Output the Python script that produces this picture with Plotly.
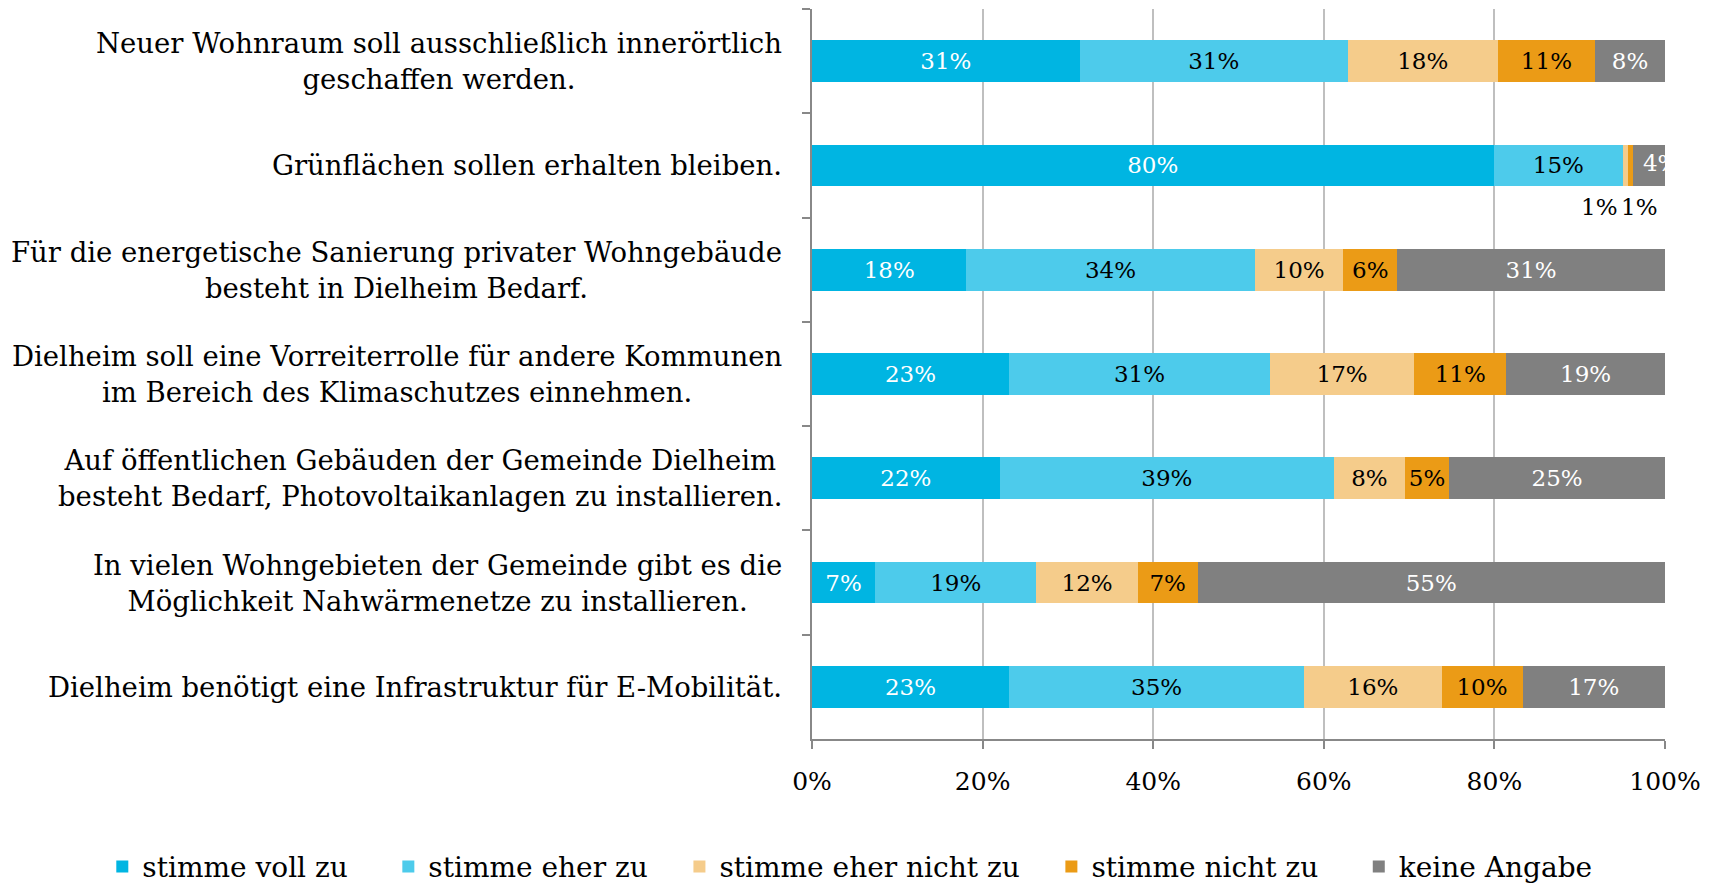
import plotly.graph_objects as go

categories = [
    "Neuer Wohnraum soll ausschließlich innerörtlich<br>geschaffen werden.",
    "Grünflächen sollen erhalten bleiben.",
    "Für die energetische Sanierung privater Wohngebäude<br>besteht in Dielheim Bedarf.",
    "Dielheim soll eine Vorreiterrolle für andere Kommunen<br>im Bereich des Klimaschutzes einnehmen.",
    "Auf öffentlichen Gebäuden der Gemeinde Dielheim<br>besteht Bedarf, Photovoltaikanlagen zu installieren.",
    "In vielen Wohngebieten der Gemeinde gibt es die<br>Möglichkeit Nahwärmenetze zu installieren.",
    "Dielheim benötigt eine Infrastruktur für E-Mobilität.",
]
series_names = ["stimme voll zu", "stimme eher zu", "stimme eher nicht zu", "stimme nicht zu", "keine Angabe"]
voll_zu = [31.4, 79.9, 18.1, 23.1, 22.0, 7.4, 23.1]
eher_zu = [31.4, 15.2, 33.8, 30.6, 39.2, 18.9, 34.6]
eher_nicht_zu = [17.6, 0.6, 10.4, 16.9, 8.3, 11.9, 16.1]
nicht_zu = [11.4, 0.6, 6.3, 10.8, 5.2, 7.0, 9.5]
keine_angabe = [8.2, 3.7, 31.4, 18.6, 25.3, 54.8, 16.7]
x_ticks = [0, 20, 40, 60, 80, 100]
x_tick_labels = ["0%", "20%", "40%", "60%", "80%", "100%"]

colors = ["#00B5E2", "#4DCBEB", "#F5CC8B", "#EB9B16", "#808080"]
text_colors = ["white", "black", "black", "black", "white"]
series = [voll_zu, eher_zu, eher_nicht_zu, nicht_zu, keine_angabe]

FONT = "DejaVu Serif"
LBL = 23
small_row = 1  # row whose small segments are labelled outside
legend_pad = [4, 3, 3, 4, 0]  # non-breaking spaces after each legend entry

fig = go.Figure()
for i, (name, vals) in enumerate(zip(series_names, series)):
    texts = []
    for r, v in enumerate(vals):
        if r == small_row and i >= 2:
            texts.append("")
        else:
            texts.append(f"{round(v)}%")
    fig.add_trace(go.Bar(
        y=categories, x=vals, name=name + "\u00a0" * legend_pad[i],
        orientation="h",
        marker=dict(color=colors[i], line=dict(width=0)),
        text=texts, textposition="inside", insidetextanchor="middle",
        constraintext="none",
        textfont=dict(family=FONT, size=LBL, color=text_colors[i]),
        hoverinfo="x",
    ))

# clipped "4%" label of the small grey segment
start = sum(s[small_row] for s in series[:4])
anchor = start + keine_angabe[small_row] * 0.3
fig.add_trace(go.Scatter(
    x=[anchor], y=[categories[small_row]], mode="text",
    text=[f"{round(keine_angabe[small_row])}%"], textposition="middle right",
    textfont=dict(family=FONT, size=LBL, color="white"),
    cliponaxis=True, showlegend=False, hoverinfo="skip",
))

# labels under the tiny segments
c2 = sum(s[small_row] for s in series[:2]) + eher_nicht_zu[small_row] / 2
c3 = sum(s[small_row] for s in series[:3]) + nicht_zu[small_row] / 2
for cx, v, sh in [(c2, eher_nicht_zu[small_row], -26), (c3, nicht_zu[small_row], 9)]:
    fig.add_annotation(x=cx, y=categories[small_row], xref="x", yref="y",
                       text=f"{round(v)}%", showarrow=False, xshift=sh, yshift=-42,
                       font=dict(family=FONT, size=LBL, color="black"))

# category labels (centered multi-line, right-aligned block)
for c in categories:
    fig.add_annotation(x=0, y=c, xref="paper", yref="y", text=c, showarrow=False,
                       xanchor="right", yanchor="middle", align="center", xshift=-28,
                       font=dict(family=FONT, size=27.5, color="black"))

fig.update_layout(
    barmode="stack",
    bargap=0.6,
    width=1717, height=885,
    margin=dict(l=812, r=52, t=9, b=146, autoexpand=False),
    paper_bgcolor="white", plot_bgcolor="white",
    font=dict(family=FONT, size=28, color="black"),
    legend=dict(orientation="h", xref="paper", yref="paper",
                x=-0.832, xanchor="left", y=-0.175, yanchor="middle",
                font=dict(family=FONT, size=28), traceorder="normal"),
    xaxis=dict(range=[0, 100], tickvals=x_ticks, ticktext=x_tick_labels,
               showgrid=True, gridcolor="#BFBFBF", gridwidth=1.5,
               showline=True, linecolor="#888888", linewidth=2,
               ticks="outside", ticklen=8, tickcolor="#888888", tickwidth=2,
               ticklabelstandoff=11, tickfont=dict(family=FONT, size=25),
               zeroline=False, fixedrange=True),
    yaxis=dict(type="category", autorange="reversed", showticklabels=False,
               tickson="boundaries", ticks="outside", ticklen=8, tickcolor="#888888",
               tickwidth=2, showgrid=False, showline=True, linecolor="#888888",
               linewidth=2, zeroline=False, fixedrange=True),
)

fig.write_html("out.html", config={"displayModeBar": False},
               post_script="document.body.style.margin='0';")
